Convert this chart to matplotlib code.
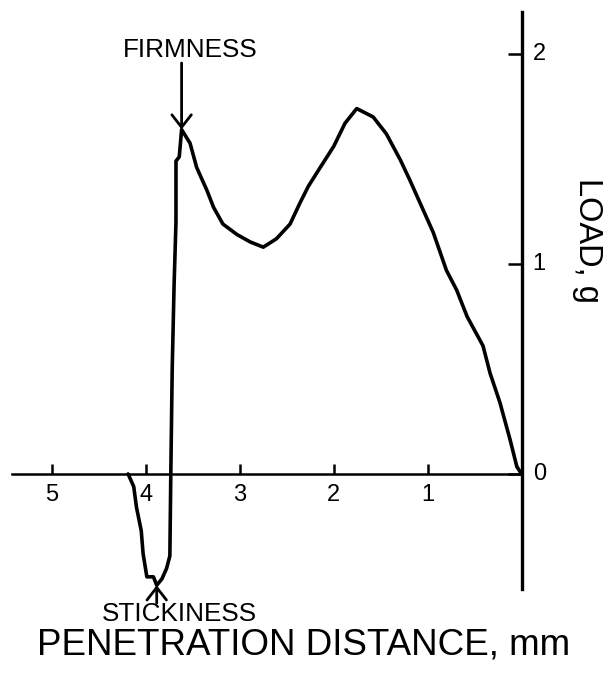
import matplotlib
matplotlib.use("Agg")
import matplotlib.pyplot as plt

plt.rcParams['font.family'] = ['Liberation Sans', 'DejaVu Sans']

# penetration distance (mm) and load (g)
distance = [4.19, 4.16, 4.13, 4.10, 4.05, 4.03, 3.99, 3.92, 3.885, 3.83, 3.78, 3.745,
            3.735, 3.72, 3.70, 3.68, 3.68, 3.645, 3.62, 3.53, 3.46, 3.35, 3.28, 3.18,
            3.03, 2.89, 2.75, 2.61, 2.465, 2.36, 2.27, 2.15, 2.00, 1.88, 1.755, 1.58,
            1.44, 1.29, 1.19, 1.08, 0.94, 0.80, 0.69, 0.58, 0.41, 0.335, 0.23, 0.12,
            0.05, 0.0]
load = [0.0, -0.03, -0.06, -0.16, -0.27, -0.38, -0.49, -0.49, -0.53, -0.50, -0.45, -0.39,
        0.0, 0.5, 0.9, 1.2, 1.49, 1.51, 1.64, 1.575, 1.46, 1.35, 1.27, 1.19,
        1.14, 1.105, 1.08, 1.12, 1.19, 1.29, 1.37, 1.455, 1.56, 1.67, 1.74, 1.70,
        1.62, 1.495, 1.40, 1.29, 1.15, 0.97, 0.875, 0.75, 0.61, 0.48, 0.34, 0.16,
        0.035, 0.0]

x_ticks = [5, 4, 3, 2, 1]
y_ticks = [0, 1, 2]
firmness_pt = (3.62, 1.64)
stickiness_pt = (3.885, -0.53)

fig = plt.figure(figsize=(6.08, 6.77), dpi=100)
ax = fig.add_axes([0, 0, 1, 1])
ax.set_xlim(5.554, -0.921)
ax.set_ylim(-0.967, 2.257)

ax.plot(distance, load, color='black', lw=2.6, solid_joinstyle='round', solid_capstyle='round')

# axes
for s in ['left', 'top']:
    ax.spines[s].set_visible(False)
ax.spines['right'].set_position(('data', 0))
ax.spines['right'].set_bounds(-0.55, 2.2)
ax.spines['right'].set_linewidth(2.4)
ax.spines['bottom'].set_position(('data', 0))
ax.spines['bottom'].set_bounds(0, 5.43)
ax.spines['bottom'].set_linewidth(1.8)
ax.yaxis.tick_right()
ax.set_xticks(x_ticks)
ax.set_xticklabels([str(v) for v in x_ticks])
ax.set_yticks(y_ticks)
ax.set_yticklabels([str(v) for v in y_ticks])
ax.tick_params(axis='x', direction='in', length=7, width=1.8, pad=7, labelsize=17)
ax.tick_params(axis='y', direction='in', length=10, width=1.8, pad=8, labelsize=17)
for lbl in ax.get_yticklabels():
    lbl.set_verticalalignment('center')

# annotations
arrow_kw = dict(arrowstyle='->,head_length=0.45,head_width=0.35', lw=2.0,
                color='black', mutation_scale=20, shrinkA=0, shrinkB=0)
ax.annotate('', xy=firmness_pt, xytext=(firmness_pt[0], 1.957), arrowprops=arrow_kw)
ax.text(3.525, 2.019, 'FIRMNESS', ha='center', va='center', fontsize=18.8)
ax.annotate('', xy=stickiness_pt, xytext=(stickiness_pt[0], -0.615), arrowprops=arrow_kw)
ax.text(3.647, -0.665, 'STICKINESS', ha='center', va='center', fontsize=18.8)

fig.text(0.5, 0.048, 'PENETRATION DISTANCE, mm', ha='center', va='center', fontsize=26.5)
fig.text(0.967, 0.645, 'LOAD, g', ha='center', va='center', rotation=-90, fontsize=23.5)

fig.savefig('out.png', dpi=100)
